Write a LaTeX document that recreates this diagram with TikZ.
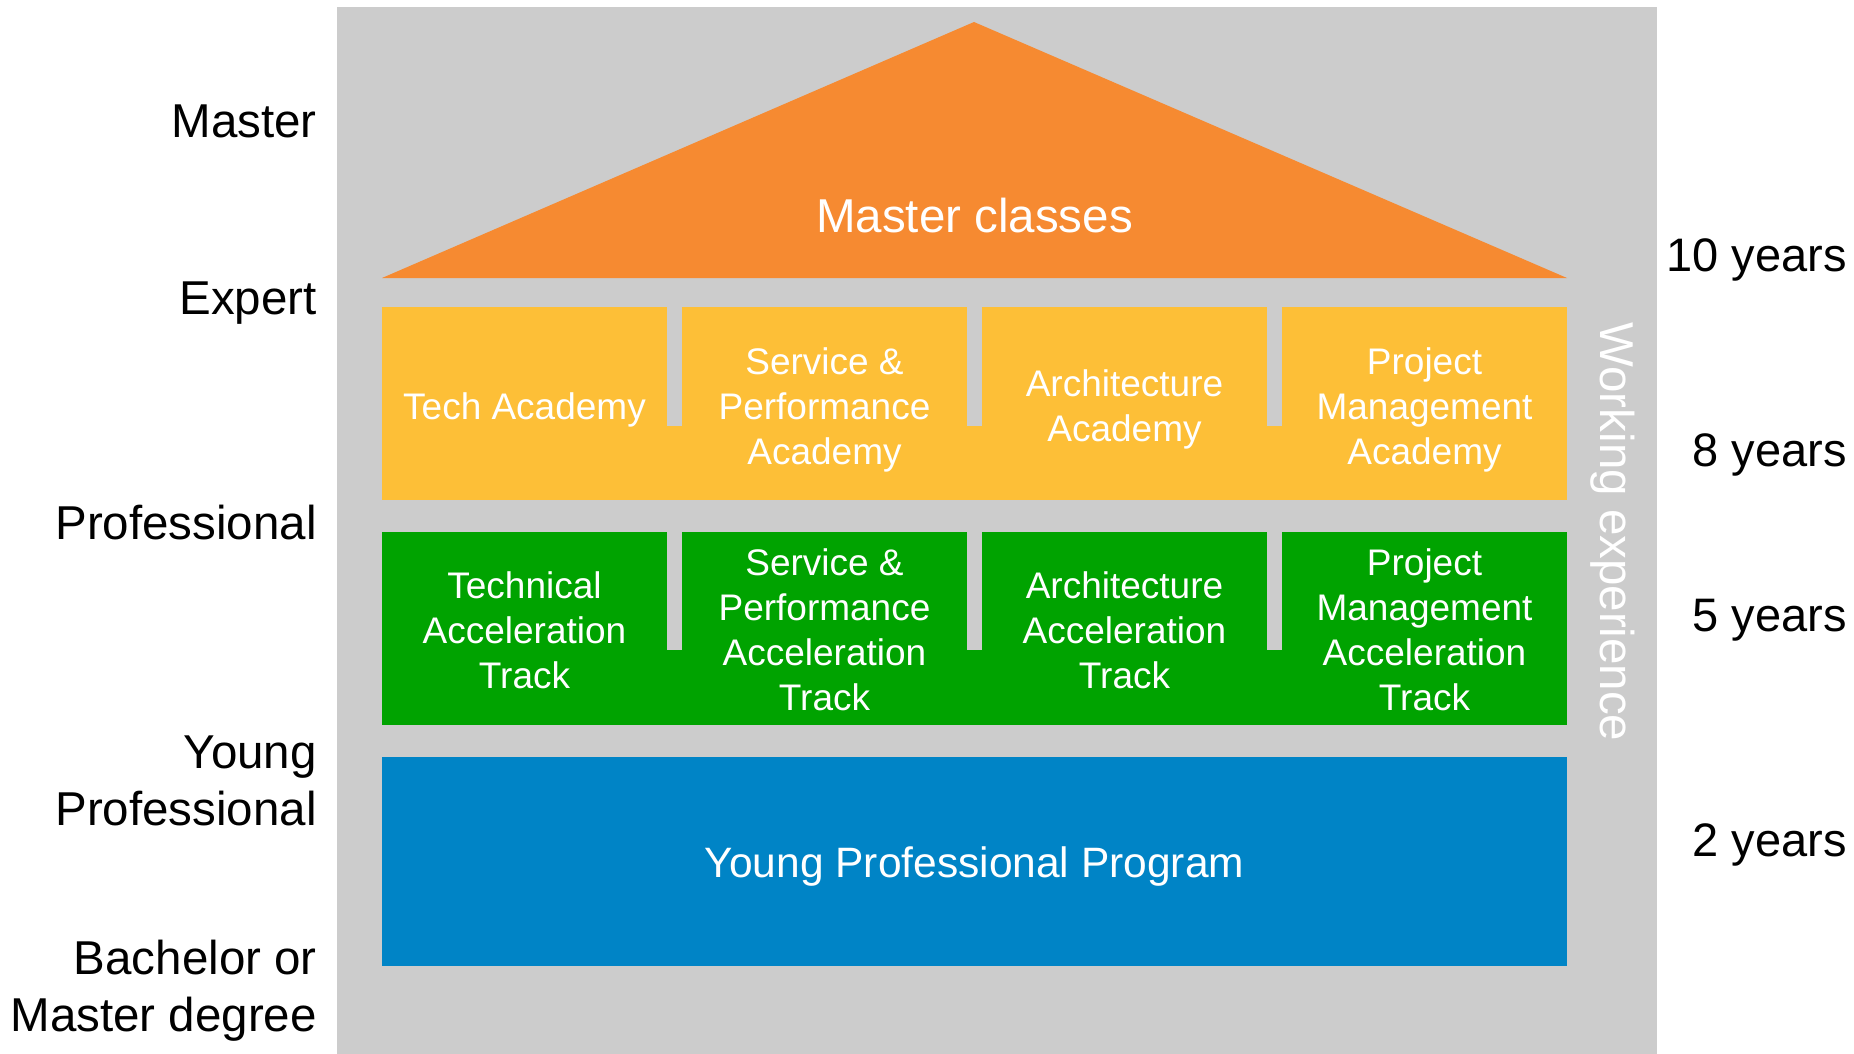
\documentclass[tikz,border=0pt]{standalone}
\usepackage{fontspec}
\setmainfont{Liberation Sans}
\definecolor{bggray}{HTML}{CCCCCC}
\definecolor{rooforange}{HTML}{F68A31}
\definecolor{acadyellow}{HTML}{FDBF37}
\definecolor{trackgreen}{HTML}{00A300}
\definecolor{ypblue}{HTML}{0084C6}
\tikzset{
  rowbox/.style={draw=none, inner sep=0pt, minimum width=1185pt},
  boxtext/.style={text=white, align=center, inner sep=0pt, font=\fontsize{37}{45}\selectfont},
  leftlabel/.style={text=black, align=right, inner sep=0pt, font=\fontsize{47.5}{57}\selectfont},
  rightlabel/.style={text=black, inner sep=0pt, anchor=base east, font=\fontsize{47}{56}\selectfont},
  sep/.style={fill=bggray}
}
\begin{document}
\begin{tikzpicture}[x=1pt,y=-1pt]
\useasboundingbox (0,0) rectangle (1854,1054);
% background
\fill[bggray] (337,7) rectangle (1657,1054);
% roof
\fill[rooforange] (382,278) -- (974,22) -- (1567,278) -- cycle;
\node[text=white, inner sep=0pt, anchor=base, font=\fontsize{47.5}{57}\selectfont] (mc) at (974.5,232) {Master classes};
% rows
\node[rowbox, fill=acadyellow, minimum height=193pt] (acad) at (974.5,403.5) {};
\node[rowbox, fill=trackgreen, minimum height=193pt] (track) at (974.5,628.5) {};
\node[rowbox, fill=ypblue, minimum height=209pt] (yp) at (974.5,861.5) {};
% separators
\fill[sep] (667,307) rectangle (682,426);
\fill[sep] (967,307) rectangle (982,426);
\fill[sep] (1267,307) rectangle (1282,426);
\fill[sep] (667,532) rectangle (682,650);
\fill[sep] (967,532) rectangle (982,650);
\fill[sep] (1267,532) rectangle (1282,650);
% academy texts
\node[boxtext] (a1) at (524.5,409.5) {Tech Academy};
\node[boxtext] (a2) at (824.5,409.5) {Service \&\\Performance\\Academy};
\node[boxtext] (a3) at (1124.5,409.5) {Architecture\\Academy};
\node[boxtext] (a4) at (1424.5,409.5) {Project\\Management\\Academy};
% track texts
\node[boxtext] (t1) at (524.5,630) {Technical\\Acceleration\\Track};
\node[boxtext] (t2) at (824.5,630) {Service \&\\Performance\\Acceleration\\Track};
\node[boxtext] (t3) at (1124.5,630) {Architecture\\Acceleration\\Track};
\node[boxtext] (t4) at (1424.5,630) {Project\\Management\\Acceleration\\Track};
% young professional program
\node[text=white, inner sep=0pt, anchor=base, font=\fontsize{42.5}{51}\selectfont] (ypt) at (974.5,877) {Young Professional Program};
% working experience
\node[text=white, inner sep=0pt, rotate=-90, font=\fontsize{47.5}{57}\selectfont] (we) at (1613,532) {Working experience};
% left labels
\node[leftlabel, anchor=base east] (lmaster) at (317,138) {Master};
\node[leftlabel, anchor=base east] (lexpert) at (317,314.5) {Expert};
\node[leftlabel, anchor=base east] (lprof) at (317,539) {Professional};
\node[leftlabel, anchor=east] (lyoung) at (317,780.5) {Young\\Professional};
\node[leftlabel, anchor=east] (lbach) at (317,990.5) {Bachelor or\\Master degree};
% right labels
\node[rightlabel] (r10) at (1847,271.5) {10 years};
\node[rightlabel] (r8) at (1847,466) {8 years};
\node[rightlabel] (r5) at (1847,631) {5 years};
\node[rightlabel] (r2) at (1847,856) {2 years};
\end{tikzpicture}
\end{document}
